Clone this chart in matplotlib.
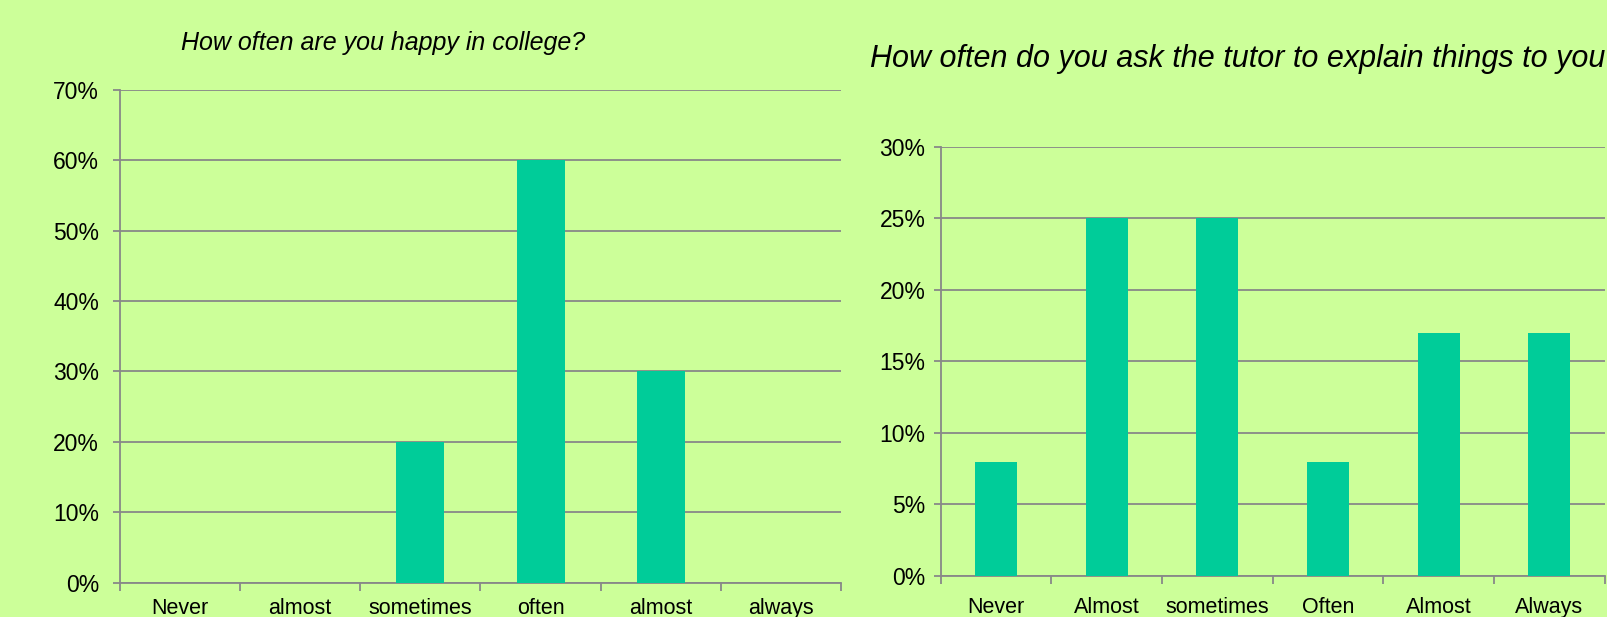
import numpy as np
import matplotlib.pyplot as plt
from matplotlib.ticker import PercentFormatter

# survey answers, share of respondents (%)
happy_labels = ["Never", "almost", "sometimes", "often", "almost", "always"]
happy_values = [0, 0, 20, 60, 30, 0]

tutor_labels = ["Never", "Almost", "sometimes", "Often", "Almost", "Always"]
tutor_values = [8, 25, 25, 8, 17, 17]

BG = "#CCFF99"
BAR = "#00CC99"
GRID = "#888888"

plt.rcParams["font.family"] = ["Liberation Sans", "DejaVu Sans"]

fig = plt.figure(figsize=(16.08, 6.17), dpi=100, facecolor=BG)


def bar_panel(rect, labels, values, ymax, step, width, xpad, ypad):
    ax = fig.add_axes(rect)
    ax.set_facecolor(BG)
    x = np.arange(len(labels))
    ax.bar(x, values, width=width, color=BAR, zorder=3)

    ax.set_xlim(-0.5, len(labels) - 0.5)
    ax.set_ylim(0, ymax)
    ax.set_yticks(np.arange(0, ymax + 0.1, step))
    ax.yaxis.set_major_formatter(PercentFormatter(decimals=0))
    ax.grid(axis="y", color=GRID, linewidth=1.3, zorder=0)

    # category labels at centres, tick marks between categories
    ax.set_xticks(x)
    ax.set_xticklabels(labels)
    ax.set_xticks(np.arange(-0.5, len(labels)), minor=True)
    ax.tick_params(axis="x", which="major", length=0, pad=xpad, labelsize=15.5)
    ax.tick_params(axis="x", which="minor", length=6, width=1.3, color=GRID)
    ax.tick_params(axis="y", length=5, width=1.3, color=GRID, pad=ypad, labelsize=16.5)

    for side in ("top", "right"):
        ax.spines[side].set_visible(False)
    for side in ("left", "bottom"):
        ax.spines[side].set_color(GRID)
        ax.spines[side].set_linewidth(1.3)
    return ax


bar_panel([0.0746, 0.0559, 0.4484, 0.798], happy_labels, happy_values, 70, 10, 0.4,
          xpad=11.5, ypad=10)
bar_panel([0.585, 0.0665, 0.4129, 0.6953], tutor_labels, tutor_values, 30, 5, 0.38,
          xpad=15.5, ypad=6)

fig.text(0.238, 0.931, "How often are you happy in college?", ha="center", va="center",
         fontsize=18, style="italic")
fig.text(0.541, 0.905, "How often do you ask the tutor to explain things to you?", ha="left",
         va="center", fontsize=22, style="italic")

fig.savefig("out.png", dpi=100, facecolor=BG)
